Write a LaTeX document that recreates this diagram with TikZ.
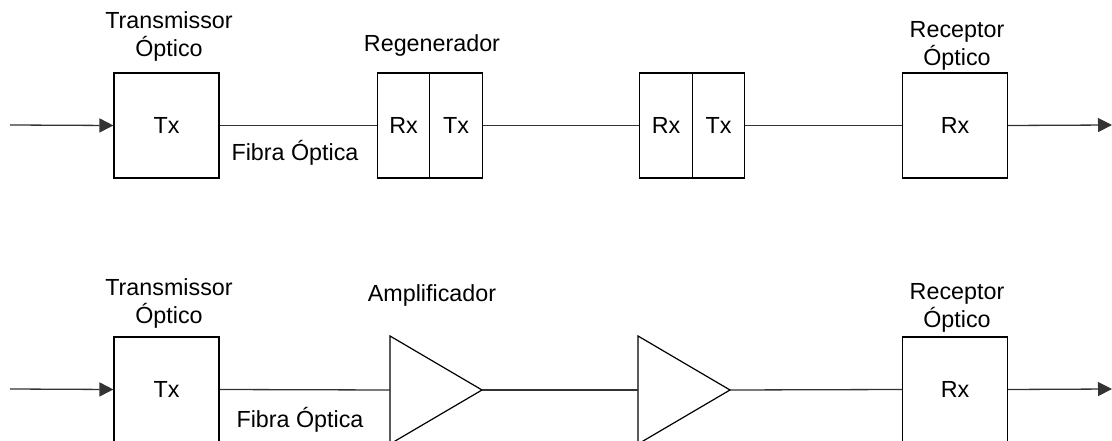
\documentclass[tikz,border=0pt]{standalone}
\usepackage{fontspec}
\setmainfont{Liberation Sans}
\usetikzlibrary{arrows.meta}
\begin{document}
\begin{tikzpicture}[x=1pt,y=-1pt,
  blk/.style={draw=black,line width=1.2pt,minimum width=105pt,minimum height=105pt,inner sep=0pt,font=\fontsize{23.3}{27}\selectfont},
  half/.style={draw=black,line width=1.2pt,minimum width=52.5pt,minimum height=105pt,inner sep=0pt,font=\fontsize{23.3}{27}\selectfont},
  lbl/.style={inner sep=0pt,align=center,font=\fontsize{23.3}{28}\selectfont},
  wire/.style={draw=black!80,line width=1.3pt},
  arr/.style={wire,-{Triangle[length=14pt,width=14pt]}},
  amp/.style={draw=black,line width=1.2pt,line join=miter}]
\useasboundingbox (0,0) rectangle (1112,441);
\clip (0,0) rectangle (1112,441);
% ---------- top row ----------
\coordinate (in1) at (10,125);
\node[blk] (tx1) at (166.5,125.5) {Tx};
\node[half] (rg1r) at (403.5,125.5) {Rx};
\node[half] (rg1t) at (456,125.5) {Tx};
\node[half] (rg2r) at (666,125.5) {Rx};
\node[half] (rg2t) at (718.5,125.5) {Tx};
\node[blk] (rx1) at (955,125.5) {Rx};
\coordinate (out1) at (1112,125);
\draw[arr] (in1) -- (tx1.west);
\draw[wire] (tx1.east) -- (rg1r.west);
\draw[wire] (rg1t.east) -- (rg2r.west);
\draw[wire] (rg2t.east) -- (rx1.west);
\draw[arr] (rx1.east) -- (out1);
\node[lbl] (t1) at (169,36) {Transmissor\\Óptico};
\node[lbl] (fo1) at (295,153) {Fibra Óptica};
\node[lbl] (rg) at (432,45.5) {Regenerador};
\node[lbl] (r1) at (957,45.5) {Receptor\\Óptico};
% ---------- bottom row ----------
\coordinate (in2) at (10,389);
\node[blk] (tx2) at (166.5,389.5) {Tx};
\coordinate (a1t) at (390,336);
\coordinate (a1b) at (390,444);
\coordinate (a1) at (482,390);
\coordinate (a1w) at (390,390);
\coordinate (a2t) at (638,336);
\coordinate (a2b) at (638,444);
\coordinate (a2) at (730,390);
\coordinate (a2w) at (638,390);
\draw[amp] (a1t) -- (a1) -- (a1b) -- cycle;
\draw[amp] (a2t) -- (a2) -- (a2b) -- cycle;
\node[blk] (rx2) at (955,389.5) {Rx};
\coordinate (out2) at (1112,389);
\draw[arr] (in2) -- (tx2.west);
\draw[wire] (tx2.east) -- (a1w);
\draw[wire] (a1) -- (a2w);
\draw[wire] (a2) -- (rx2.west);
\draw[arr] (rx2.east) -- (out2);
\node[lbl] (t2) at (169,303) {Transmissor\\Óptico};
\node[lbl] (fo2) at (300,419.5) {Fibra Óptica};
\node[lbl] (am) at (432,295) {Amplificador};
\node[lbl] (r2) at (957,307.5) {Receptor\\Óptico};
\end{tikzpicture}
\end{document}
